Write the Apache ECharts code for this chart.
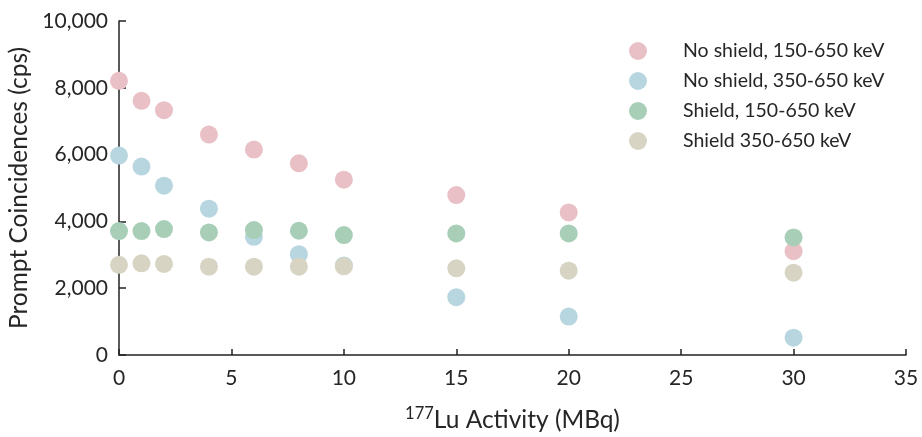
<!DOCTYPE html>
<html>
<head>
<meta charset="utf-8">
<script src="https://cdn.jsdelivr.net/npm/echarts@6/dist/echarts.min.js"></script>
<style>
  html, body { margin: 0; padding: 0; background: #fff; }
  #chart { width: 922px; height: 437px; }
</style>
</head>
<body>
<div id="chart"></div>
<script>
// 177Lu activity (MBq) at which coincidences were measured
const activity = [0, 1, 2, 4, 6, 8, 10, 15, 20, 30];

// Prompt coincidence rates (cps) for each shielding / energy-window setting
const noShield150 = [8210, 7610, 7330, 6600, 6150, 5740, 5250, 4790, 4270, 3110];
const noShield350 = [5970, 5640, 5070, 4380, 3540, 3020, 2680, 1730, 1150, 520];
const shield150   = [3710, 3710, 3770, 3670, 3740, 3720, 3590, 3640, 3640, 3520];
const shield350   = [2700, 2745, 2725, 2645, 2645, 2645, 2655, 2595, 2525, 2465];

const seriesNames = [
  'No shield, 150-650 keV',
  'No shield, 350-650 keV',
  'Shield, 150-650 keV',
  'Shield 350-650 keV'
];
const seriesColors = ['#e8c0c6', '#b8d6df', '#a8ceb8', '#d8d4c4'];
const seriesValues = [noShield150, noShield350, shield150, shield350];

const fontFamily = 'Lato, "Open Sans", sans-serif';
const textColor = '#262626';

const chart = echarts.init(document.getElementById('chart'), null, { renderer: 'canvas' });

chart.setOption({
  animation: false,
  backgroundColor: '#ffffff',
  grid: { left: 119, right: 16, top: 21, bottom: 82, containLabel: false, outerBoundsMode: 'none' },
  legend: {
    orient: 'vertical',
    left: 624,
    top: 36,
    itemWidth: 18,
    itemHeight: 18,
    itemGap: 10,
    icon: 'circle',
    textStyle: {
      fontFamily: fontFamily,
      fontSize: 19.5,
      color: textColor,
      padding: [0, 0, 0, 31]
    },
    data: seriesNames
  },
  xAxis: {
    type: 'value',
    min: 0,
    max: 35,
    interval: 5,
    name: '{sup|177}{base|Lu Activity (MBq)}',
    nameLocation: 'middle',
    nameGap: 50,
    nameTextStyle: {
      rich: {
        sup: { fontFamily: fontFamily, fontSize: 16.5, color: textColor, verticalAlign: 'top', padding: [0, 0, 14, 0] },
        base: { fontFamily: fontFamily, fontSize: 24.5, color: textColor }
      }
    },
    axisLine: { show: true, onZero: false, lineStyle: { color: '#222', width: 1.5 } },
    axisTick: { show: true, inside: true, length: 6, lineStyle: { color: '#222', width: 1.5 } },
    axisLabel: { fontFamily: fontFamily, fontSize: 21, color: textColor, margin: 13 },
    splitLine: { show: false }
  },
  yAxis: {
    type: 'value',
    min: 0,
    max: 10000,
    interval: 2000,
    name: 'Prompt Coincidences (cps)',
    nameLocation: 'middle',
    nameGap: 87,
    nameRotate: 90,
    nameTextStyle: { fontFamily: fontFamily, fontSize: 24.5, color: textColor },
    axisLine: { show: true, lineStyle: { color: '#222', width: 1.5 } },
    axisTick: { show: true, inside: true, length: 7, lineStyle: { color: '#222', width: 1.5 } },
    axisLabel: {
      fontFamily: fontFamily,
      fontSize: 21,
      color: textColor,
      margin: 11,
      formatter: v => v.toLocaleString('en-US')
    },
    splitLine: { show: false }
  },
  series: seriesNames.map((name, i) => ({
    name: name,
    type: 'scatter',
    symbol: 'circle',
    symbolSize: 18,
    z: 3 + i,
    itemStyle: { color: seriesColors[i], opacity: 1 },
    data: activity.map((a, j) => [a, seriesValues[i][j]])
  }))
});
</script>
</body>
</html>
